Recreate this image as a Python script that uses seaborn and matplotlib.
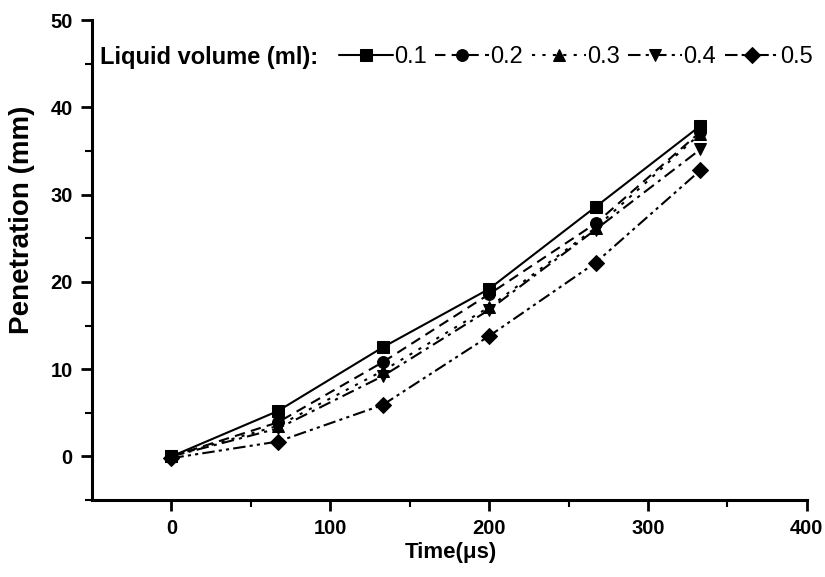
import numpy as np
import pandas as pd
import matplotlib
matplotlib.use("Agg")
import matplotlib.pyplot as plt
import seaborn as sns

# data
time_us = [0, 67, 133, 200, 267, 333]
volumes = ["0.1", "0.2", "0.3", "0.4", "0.5"]
pen_01 = [0.0, 5.2, 12.5, 19.2, 28.6, 37.9]
pen_02 = [0.0, 3.9, 10.8, 18.6, 26.7, 37.2]
pen_03 = [0.0, 3.5, 9.8, 17.1, 26.2, 37.0]
pen_04 = [0.0, 3.2, 9.2, 16.8, 26.0, 35.2]
pen_05 = [-0.2, 1.7, 5.9, 13.8, 22.2, 32.8]

series = dict(zip(volumes, [pen_01, pen_02, pen_03, pen_04, pen_05]))

df = pd.DataFrame(
    [
        {"time": t, "penetration": v, "volume": vol}
        for vol, vals in series.items()
        for t, v in zip(time_us, vals)
    ]
)

markers = {"0.1": "s", "0.2": "o", "0.3": "^", "0.4": "v", "0.5": "D"}
dashes = {
    "0.1": "",
    "0.2": (5, 3),
    "0.3": (1.5, 3.5),
    "0.4": (6, 2.5, 1.5, 2.5),
    "0.5": (6, 2, 1.5, 2, 1.5, 2),
}

sns.set_style("ticks")
plt.rcParams["font.family"] = ["Liberation Sans", "DejaVu Sans"]
for key in ["text.color", "axes.labelcolor", "axes.edgecolor",
            "xtick.color", "ytick.color"]:
    plt.rcParams[key] = "black"

fig = plt.figure(figsize=(8.25, 5.77), dpi=100)
ax = fig.add_axes([0.1115, 0.1334, 0.8665, 0.8316])

sns.lineplot(
    data=df,
    x="time",
    y="penetration",
    style="volume",
    style_order=volumes,
    markers=markers,
    dashes=dashes,
    color="black",
    linewidth=1.5,
    markersize=8.5,
    markeredgecolor="black",
    legend=False,
    ax=ax,
)

ax.set_xlim(-50, 400)
ax.set_ylim(-5, 50)
ax.set_xticks([0, 100, 200, 300, 400])
ax.set_xticks([50, 150, 250, 350], minor=True)
ax.set_yticks([0, 10, 20, 30, 40, 50])
ax.set_yticks([-5, 5, 15, 25, 35, 45], minor=True)

sns.despine(ax=ax)
for side in ["left", "bottom"]:
    ax.spines[side].set_linewidth(2.2)
ax.tick_params(which="major", direction="out", length=8, width=2,
               labelsize=14.5, pad=6)
ax.tick_params(which="minor", direction="out", length=5, width=1.5)
for lbl in ax.get_xticklabels() + ax.get_yticklabels():
    lbl.set_fontweight("bold")

ax.set_xlabel("Time(\u03bcs)", fontsize=16, fontweight="bold")
ax.set_ylabel("Penetration (mm)", fontsize=20, fontweight="bold")
ax.xaxis.set_label_coords(0.502, -0.088)
ax.yaxis.set_label_coords(-0.08, 0.585)

ax.text(
    0.011, 0.923, "Liquid volume (ml):",
    transform=ax.transAxes, fontsize=17, fontweight="bold",
    va="center", ha="left",
)
handles = ax.lines[: len(volumes)]
ax.legend(
    handles,
    volumes,
    ncol=5,
    loc="center left",
    bbox_to_anchor=(0.345, 0.923),
    frameon=False,
    fontsize=17,
    handlelength=2.3,
    handletextpad=0.05,
    columnspacing=0.35,
    borderaxespad=0,
    borderpad=0,
)

fig.savefig("out.png", dpi=100)
